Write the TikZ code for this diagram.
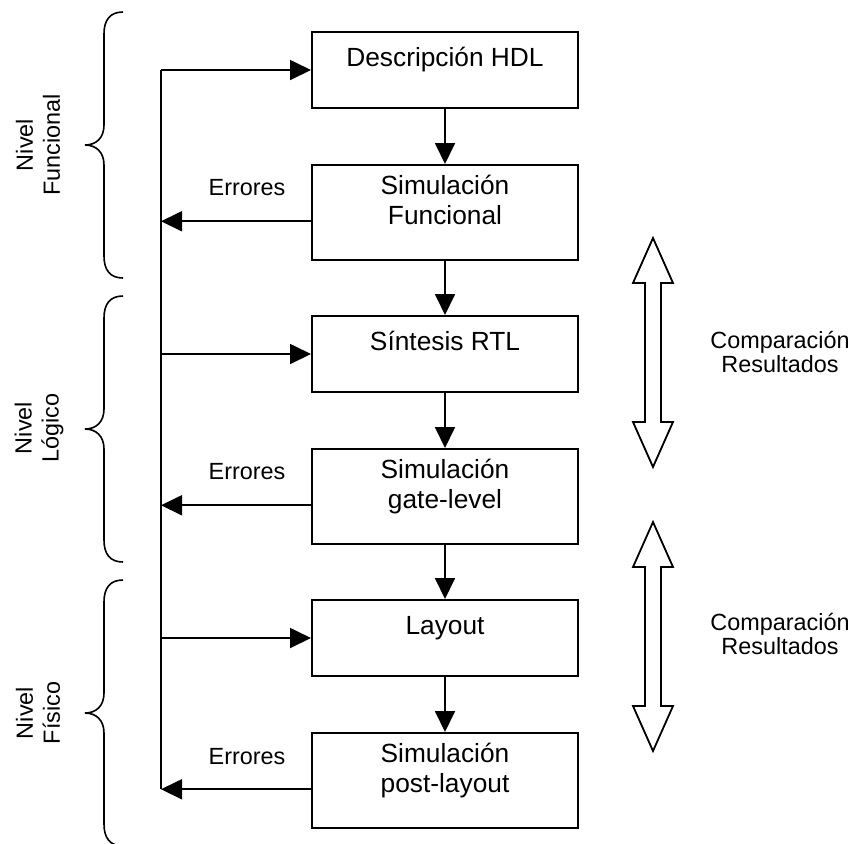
\documentclass[tikz,border=0pt]{standalone}
\usepackage{fontspec}
\setmainfont{Liberation Sans}
\usetikzlibrary{arrows.meta,calc}
\begin{document}
\begin{tikzpicture}[x=0.5pt,y=-0.5pt,
  box/.style={draw, line width=1pt, minimum width=133pt, inner sep=0pt, anchor=north},
  short/.style={box, minimum height=38pt},
  tall/.style={box, minimum height=47.25pt},
  topstrut/.style={execute at begin node={\rule{0pt}{12pt}}},
  boxtext/.style={anchor=north, inner sep=0pt, align=center, topstrut,
    font=\fontsize{13.15}{15}\selectfont},
  sidetext/.style={inner sep=0pt, align=center, font=\fontsize{11.7}{11.7}\selectfont},
  leveltext/.style={inner sep=0pt, align=center, rotate=90, font=\fontsize{11.7}{13.5}\selectfont},
  line/.style={line width=0.9pt},
  flow/.style={line, -{Triangle[length=10.5pt,width=10pt]}},
  brace/.style={line width=0.8pt},
  cmp/.style={line width=0.9pt}
]
\path[use as bounding box, fill=white] (0,0) rectangle (852,843);

% design flow boxes
\node[short] (b1) at (445,31)  {};
\node[tall]  (b2) at (445,164) {};
\node[short] (b3) at (445,315) {};
\node[tall]  (b4) at (445,448) {};
\node[short] (b5) at (445,599) {};
\node[tall]  (b6) at (445,732) {};

\node[boxtext] (t1) at ($(b1.north)+(0,11)$) {Descripción HDL};
\node[boxtext] (t2) at ($(b2.north)+(0,11)$) {Simulación\\Funcional};
\node[boxtext] (t3) at ($(b3.north)+(0,11)$) {Síntesis RTL};
\node[boxtext] (t4) at ($(b4.north)+(0,11)$) {Simulación\\gate-level};
\node[boxtext] (t5) at ($(b5.north)+(0,11)$) {Layout};
\node[boxtext] (t6) at ($(b6.north)+(0,11)$) {Simulación\\post-layout};

% downward flow
\draw[flow] (b1.south) -- (b2.north);
\draw[flow] (b2.south) -- (b3.north);
\draw[flow] (b3.south) -- (b4.north);
\draw[flow] (b4.south) -- (b5.north);
\draw[flow] (b5.south) -- (b6.north);

% feedback bus on the left
\coordinate (bus) at (161,0);
\coordinate (e2) at ([yshift=-4.5pt]b2.west);
\coordinate (e4) at ([yshift=-4.5pt]b4.west);
\coordinate (e6) at ([yshift=-4.5pt]b6.west);

\draw[line] (b1.west -| bus) -- (e6 -| bus);
\draw[flow] (b1.west -| bus) -- (b1.west);
\draw[flow] (b3.west -| bus) -- (b3.west);
\draw[flow] (b5.west -| bus) -- (b5.west);
\draw[flow] (e2) -- (e2 -| bus);
\draw[flow] (e4) -- (e4 -| bus);
\draw[flow] (e6) -- (e6 -| bus);

\node[sidetext, anchor=base] (err2) at (247,195) {Errores};
\node[sidetext, anchor=base] (err4) at (247,479) {Errores};
\node[sidetext, anchor=base] (err6) at (247,764) {Errores};

% level braces
\foreach \y in {12,296,580} {
  \begin{scope}[shift={(0,\y)}]
    \draw[brace] (123,0) .. controls (110,0) and (104,8) .. (104,22)
      -- (104,113) .. controls (104,126) and (96,133) .. (85,133)
      .. controls (96,133) and (104,140) .. (104,153)
      -- (104,244) .. controls (104,258) and (110,266) .. (123,266);
  \end{scope}
}
\node[leveltext] (lvl1) at (38,145) {Nivel\\Funcional};
\node[leveltext] (lvl2) at (39,428) {Nivel\\Lógico};
\node[leveltext] (lvl3) at (38,713) {Nivel\\Físico};

% result comparison arrows
\foreach \t in {238,522} {
  \begin{scope}[shift={(0,\t)}]
    \draw[cmp, line join=miter] (653,0) -- (673,45) -- (661,45) -- (661,184)
      -- (673,184) -- (653,229) -- (633,184) -- (645,184) -- (645,45)
      -- (633,45) -- cycle;
  \end{scope}
}
\node[sidetext, anchor=north, topstrut] (cmp1) at (780,331) {Comparación\\Resultados};
\node[sidetext, anchor=north, topstrut] (cmp2) at (780,613) {Comparación\\Resultados};
\end{tikzpicture}
\end{document}
